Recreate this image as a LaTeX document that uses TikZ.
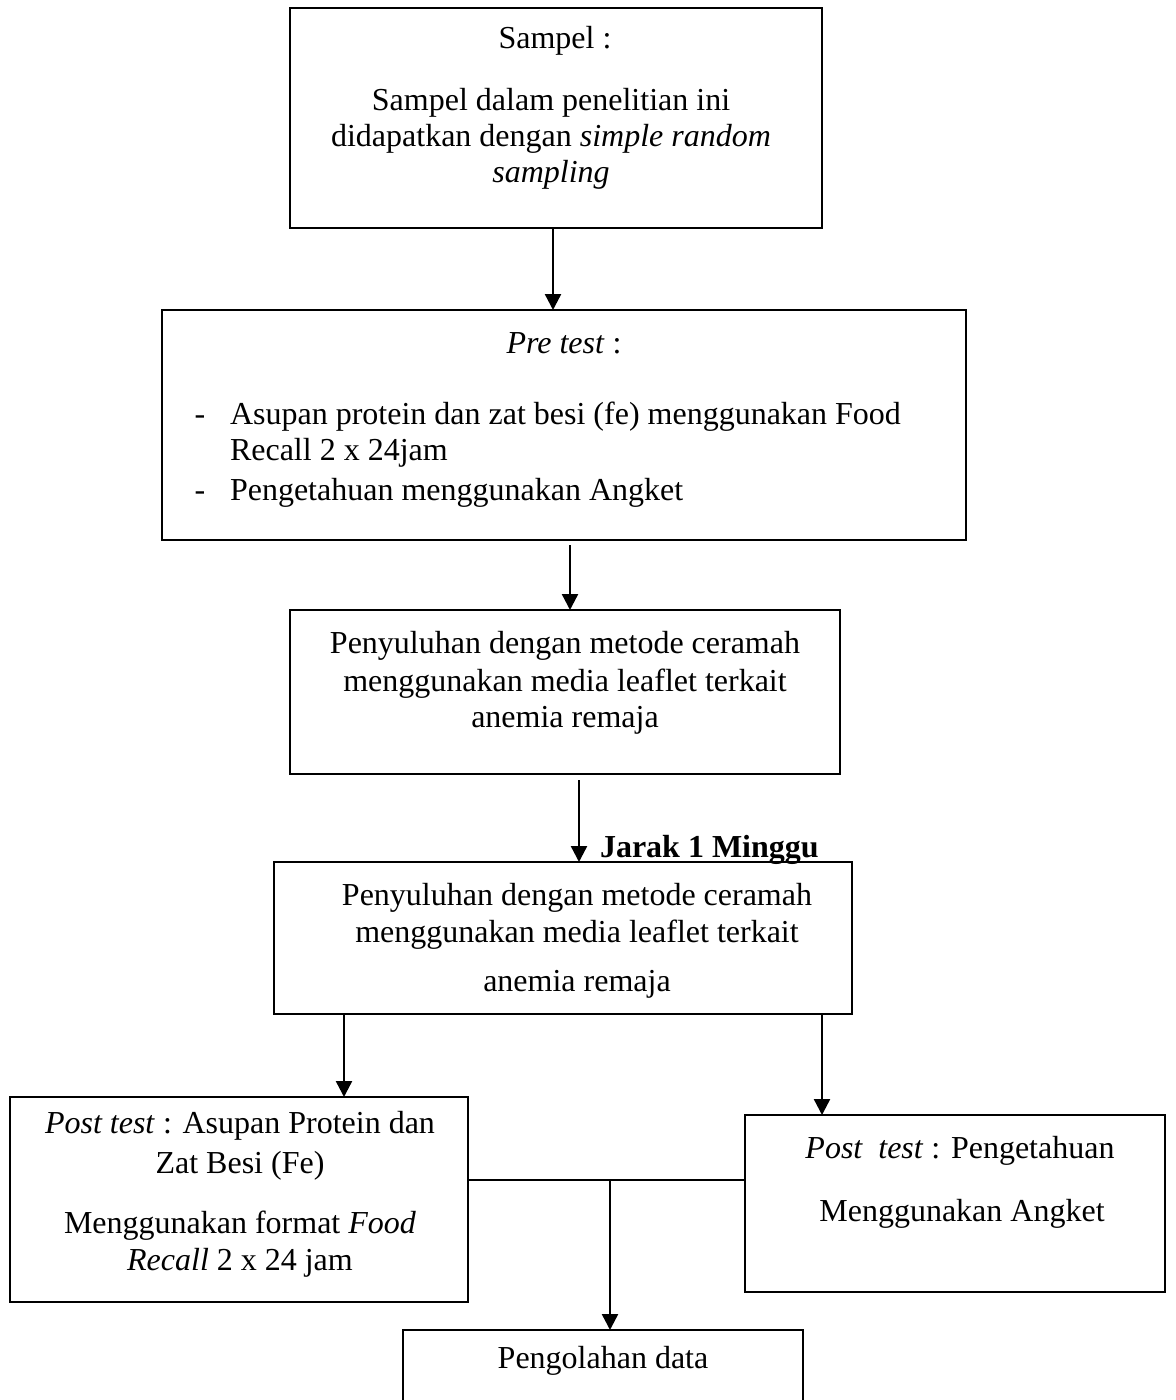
\documentclass[tikz,border=0pt]{standalone}
\usepackage{fontspec}
\setmainfont{Liberation Serif}
\usetikzlibrary{arrows.meta}
\newdimen\px \px=0.375pt
\begin{document}
\begin{tikzpicture}[x=0.375pt,y=-0.375pt,
  box/.style={draw,line width=0.75pt,inner sep=0pt,outer sep=0pt},
  txt/.style={inner sep=0pt,outer sep=0pt,anchor=base,align=center,font=\fontsize{12}{13.8}\selectfont},
  txtl/.style={inner sep=0pt,outer sep=0pt,anchor=base west,align=left,font=\fontsize{12}{13.5}\selectfont},
  arr/.style={line width=0.9pt,-{Triangle[length=6pt,width=6pt]}},
  ln/.style={line width=0.75pt}]
\clip (0,0) rectangle (1176,1400);
% boxes
\node[box,minimum width=532\px,minimum height=220\px] (b1) at (556,118) {};
\node[box,minimum width=804\px,minimum height=230\px] (b2) at (564,425) {};
\node[box,minimum width=550\px,minimum height=164\px] (b3) at (565,692) {};
\node[box,minimum width=578\px,minimum height=152\px] (b4) at (563,938) {};
\node[box,minimum width=458\px,minimum height=205\px] (L) at (239,1199.5) {};
\node[box,minimum width=420\px,minimum height=177\px] (R) at (955,1203.5) {};
\node[box,minimum width=400\px,minimum height=100\px] (B) at (603,1380) {};
% texts box 1
\node[txt] (t1a) at (555,48) {Sampel :};
\node[txt] (t1b) at (551,110) {Sampel dalam penelitian ini};
\node[txt] (t1c) at (551,146) {didapatkan dengan \textit{simple random}};
\node[txt] (t1d) at (551,182) {\textit{sampling}};
% box 2
\node[txt] (t2a) at (564,353) {\textit{Pre test} :};
\node[txt] (d1) at (200,424) {-};
\node[txtl] (t2b) at (230,424) {Asupan protein dan zat besi (fe) menggunakan Food};
\node[txtl] (t2c) at (230,460) {Recall 2 x 24jam};
\node[txt] (d2) at (200,500) {-};
\node[txtl] (t2d) at (230,500) {Pengetahuan menggunakan Angket};
% box 3
\node[txt] (t3a) at (565,653) {Penyuluhan dengan metode ceramah};
\node[txt] (t3b) at (565,691) {menggunakan media leaflet terkait};
\node[txt] (t3c) at (565,727) {anemia remaja};
% jarak
\node[txtl,font=\fontsize{12}{13.5}\selectfont\bfseries] (jr) at (600,857) {Jarak 1 Minggu};
% box 4
\node[txt] (t4a) at (577,905) {Penyuluhan dengan metode ceramah};
\node[txt] (t4b) at (577,942) {menggunakan media leaflet terkait};
\node[txt] (t4c) at (577,991) {anemia remaja};
% left box
\node[txt] (tLa) at (240,1133) {\textit{Post test} : Asupan Protein dan};
\node[txt] (tLb) at (240,1173) {Zat Besi (Fe)};
\node[txt] (tLc) at (240,1233) {Menggunakan format \textit{Food}};
\node[txt] (tLd) at (240,1270) {\textit{Recall} 2 x 24 jam};
% right box
\node[txt] (tRa) at (960,1158) {\textit{Post\ \ test} : Pengetahuan};
\node[txt] (tRb) at (962,1221) {Menggunakan Angket};
% bottom
\node[txt] (tB) at (603,1368) {Pengolahan data};
% connector coordinates
\coordinate (x1) at (553,0);
\coordinate (x2) at (570,545);
\coordinate (x3) at (579,780);
\coordinate (x4) at (344,0);
\coordinate (x5) at (822,0);
\coordinate (j) at (610,1180);
% arrows
\draw[arr] (b1.south -| x1) -- (b2.north -| x1);
\draw[arr] (x2) -- (b3.north -| x2);
\draw[arr] (x3) -- (b4.north -| x3);
\draw[arr] (b4.south -| x4) -- (L.north -| x4);
\draw[arr] (b4.south -| x5) -- (R.north -| x5);
\draw[ln] (L.east |- j) -- (R.west |- j);
\draw[arr] (j) -- (B.north -| j);
\end{tikzpicture}
\end{document}
